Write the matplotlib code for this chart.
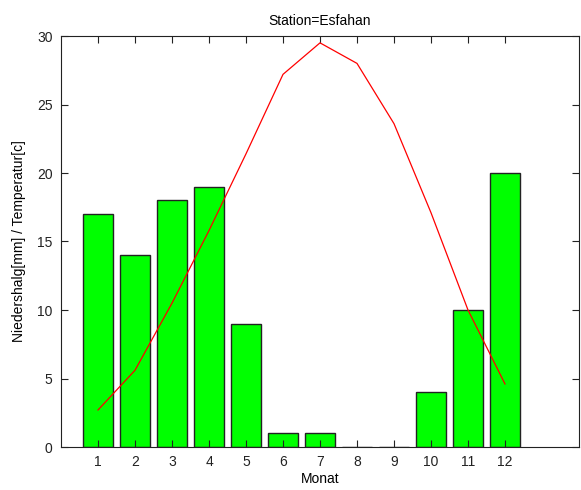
import matplotlib
matplotlib.use("Agg")
import matplotlib.pyplot as plt

months = [1, 2, 3, 4, 5, 6, 7, 8, 9, 10, 11, 12]
precip = [17, 14, 18, 19, 9, 1, 1, 0, 0, 4, 10, 20]
temp = [2.7, 5.6, 10.5, 15.8, 21.4, 27.2, 29.5, 28.0, 23.6, 17.1, 10.0, 4.6]

plt.rcParams["font.family"] = ["Liberation Sans", "DejaVu Sans"]

fig = plt.figure(figsize=(5.81, 4.90), dpi=100)
ax = fig.add_axes([61 / 581, 43 / 490, 518 / 581, 411 / 490])

ax.bar(months, precip, width=0.8, color="#00ff00", edgecolor="#222222", linewidth=1)
ax.plot(months, temp, color="red", linewidth=0.9)

ax.set_xlim(0, 14)
ax.set_ylim(0, 30)
ax.set_xticks(months)
ax.set_yticks(range(0, 31, 5))
ax.tick_params(direction="in", top=True, right=True, length=5, labelsize=10, colors="#222222", pad=6)
for s in ax.spines.values():
    s.set_color("#222222")

ax.set_title("Station=Esfahan", fontsize=10, pad=8)
ax.set_xlabel("Monat", fontsize=10, labelpad=2)
ax.set_ylabel("Niedershalg[mm] / Temperatur[c]", fontsize=10, labelpad=8)

fig.savefig("out.png", dpi=100)
